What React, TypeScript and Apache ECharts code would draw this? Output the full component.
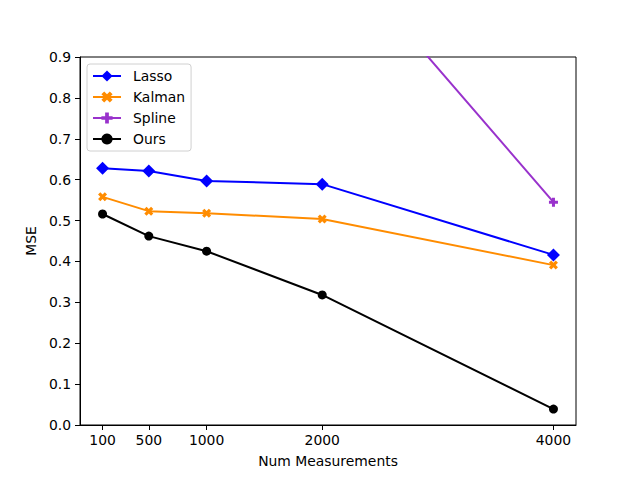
import React, { useEffect, useRef } from "react";
import * as echarts from "echarts";

const xValues = [100, 500, 1000, 2000, 4000];
const xTicks = [100, 500, 1000, 2000, 4000];
const seriesNames = ["Lasso", "Kalman", "Spline", "Ours"];
const lassoValues = [0.628, 0.621, 0.597, 0.589, 0.416];
const kalmanValues = [0.558, 0.523, 0.518, 0.504, 0.391];
const splineValues = [1.6, 1.45, 1.35, 1.2, 0.545];
const oursValues = [0.516, 0.462, 0.425, 0.318, 0.039];

const PLUS = "path://M-1,-3L1,-3L1,-1L3,-1L3,1L1,1L1,3L-1,3L-1,1L-3,1L-3,-1L-1,-1Z";
const XMARK = "path://M2,-4L4,-2L2,0L4,2L2,4L0,2L-2,4L-4,2L-2,0L-4,-2L-2,-4L0,-2Z";

const FONT = "DejaVu Sans";

function pairs(vals: number[]) {
  return xValues.map((x, i) => [x, vals[i]]);
}

export default function App() {
  const ref = useRef<HTMLDivElement>(null);
  useEffect(() => {
    const chart = echarts.init(ref.current!, null, { renderer: "svg" });
    const mk = (name: string, vals: number[], color: string, symbol: string, size: number | number[]) => ({
      name,
      type: "line",
      data: pairs(vals),
      color,
      symbol,
      symbolSize: size,
      showAllSymbol: true,
      clip: true,
      lineStyle: { color, width: 2 },
      itemStyle: { color },
      emphasis: { disabled: true },
    });
    chart.setOption({
      animation: false,
      textStyle: { fontFamily: FONT },
      grid: {
        left: 80,
        right: 64,
        top: 57,
        bottom: 53,
        show: true,
        borderColor: "#000",
        borderWidth: 1,
        backgroundColor: "transparent",
      },
      legend: {
        data: seriesNames,
        orient: "vertical",
        left: 87,
        top: 64,
        padding: [5, 6, 5, 5],
        itemWidth: 28,
        itemHeight: 14,
        itemGap: 7,
        backgroundColor: "#fff",
        borderColor: "#d0d0d0",
        borderWidth: 1,
        borderRadius: 3,
        textStyle: { fontFamily: FONT, fontSize: 13.9, color: "#000", padding: [0, 0, 0, 7] },
      },
      xAxis: {
        type: "value",
        min: -95,
        max: 4195,
        name: "Num Measurements",
        nameLocation: "middle",
        nameGap: 29,
        nameTextStyle: { fontFamily: FONT, fontSize: 13.9, color: "#000" },
        axisLine: { show: true, onZero: false, lineStyle: { color: "#000", width: 1 } },
        axisTick: { show: true, length: 5, customValues: xTicks, lineStyle: { color: "#000", width: 1 } },
        axisLabel: {
          customValues: xTicks,
          fontFamily: FONT,
          fontSize: 13.9,
          color: "#000",
          margin: 8,
          formatter: (v: number) => String(v),
        },
        splitLine: { show: false },
      },
      yAxis: {
        type: "value",
        min: 0,
        max: 0.9,
        interval: 0.1,
        name: "MSE",
        nameLocation: "middle",
        nameGap: 33,
        nameTextStyle: { fontFamily: FONT, fontSize: 13.9, color: "#000" },
        axisLine: { show: true, onZero: false, lineStyle: { color: "#000", width: 1 } },
        axisTick: { show: true, length: 5, lineStyle: { color: "#000", width: 1 } },
        axisLabel: {
          fontFamily: FONT,
          fontSize: 13.9,
          color: "#000",
          margin: 9,
          formatter: (v: number) => v.toFixed(1),
        },
        splitLine: { show: false },
      },
      series: [
        mk("Lasso", lassoValues, "#0000ff", "diamond", [13, 13]),
        mk("Kalman", kalmanValues, "#ff8c00", XMARK, 9),
        mk("Spline", splineValues, "#9932cc", PLUS, 9),
        mk("Ours", oursValues, "#000000", "circle", 9),
      ],
    });
    return () => chart.dispose();
  }, []);
  return (
    <div
      ref={ref}
      style={{ position: "fixed", left: 0, top: 0, width: 640, height: 478, background: "#fff" }}
    />
  );
}
